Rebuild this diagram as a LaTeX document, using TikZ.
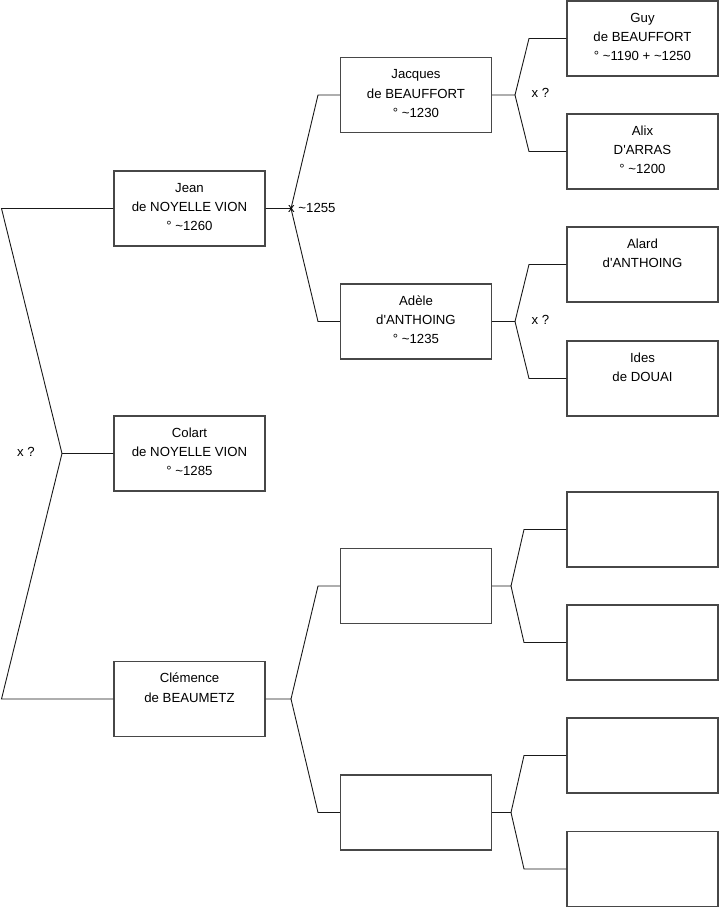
\documentclass[tikz,border=0pt]{standalone}
\usepackage{fontspec}
\setmainfont{Liberation Sans}
\newcommand{\tld}{\textasciitilde}
\newcommand{\ap}{\textquotesingle}
\tikzset{
  box/.style={draw=black!72, line width=1.1pt, inner sep=0pt, minimum width=151pt, minimum height=75pt,
    execute at begin node={\begin{minipage}[c][75pt][t]{151pt}\fontsize{13.2pt}{19.2pt}\selectfont\centering\vspace*{7.9pt}\strut},
    execute at end node={\end{minipage}}},
  conn/.style={draw=black!90, line width=0.9pt},
  lbl/.style={font=\fontsize{13.2pt}{16pt}\selectfont, inner sep=0pt}
}
\begin{document}
\begin{tikzpicture}[x=1pt,y=-1pt]
\useasboundingbox (0,0) rectangle (719,908);
% column 1
\node[box] (jean) at (189.5,208.5) {Jean\\de NOYELLE VION\\° \tld1260};
\node[box] (colart) at (189.5,453.5) {Colart\\de NOYELLE VION\\° \tld1285};
\node[box] (clem) at (189.5,699) {Clémence\\de BEAUMETZ};
% column 2
\node[box] (jacques) at (416,95) {Jacques\\de BEAUFFORT\\° \tld1230};
\node[box] (adele) at (416,321.5) {Adèle\\d\ap ANTHOING\\° \tld1235};
\node[box] (ea) at (416,586) {};
\node[box] (eb) at (416,812.5) {};
% column 3
\node[box] (guy) at (642.5,38.5) {Guy\\de BEAUFFORT\\° \tld1190 + \tld1250};
\node[box] (alix) at (642.5,151.5) {Alix\\D\ap ARRAS\\° \tld1200};
\node[box] (alard) at (642.5,264.5) {Alard\\d\ap ANTHOING};
\node[box] (ides) at (642.5,378.5) {Ides\\de DOUAI};
\node[box] (ec) at (642.5,529.5) {};
\node[box] (ed) at (642.5,642.5) {};
\node[box] (ee) at (642.5,755.5) {};
\node[box] (ef) at (642.5,869) {};
% junction coordinates
\coordinate (r1) at (1.5,208.5);
\coordinate (r0) at (62,453.5);
\coordinate (r2) at (1.5,699);
\coordinate (j0) at (291,208.5);
\coordinate (j1) at (318,95);
\coordinate (j2) at (318,321.5);
\coordinate (c0) at (291,699);
\coordinate (c1) at (318,586);
\coordinate (c2) at (318,812.5);
\coordinate (q0) at (515,95);
\coordinate (q1) at (529,38.5);
\coordinate (q2) at (529,151.5);
\coordinate (a0) at (515,321.5);
\coordinate (a1) at (529,264.5);
\coordinate (a2) at (529,378.5);
\coordinate (e0) at (511,586);
\coordinate (e1) at (524,529.5);
\coordinate (e2) at (524,642.5);
\coordinate (f0) at (511,812.5);
\coordinate (f1) at (524,755.5);
\coordinate (f2) at (524,869);
% connectors
\draw[conn] (jean.west) -- (r1) -- (r0) -- (colart.west);
\draw[conn] (r0) -- (r2) -- (clem.west);
\draw[conn] (jean.east) -- (j0) -- (j1) -- (jacques.west);
\draw[conn] (j0) -- (j2) -- (adele.west);
\draw[conn] (clem.east) -- (c0) -- (c1) -- (ea.west);
\draw[conn] (c0) -- (c2) -- (eb.west);
\draw[conn] (jacques.east) -- (q0) -- (q1) -- (guy.west);
\draw[conn] (q0) -- (q2) -- (alix.west);
\draw[conn] (adele.east) -- (a0) -- (a1) -- (alard.west);
\draw[conn] (a0) -- (a2) -- (ides.west);
\draw[conn] (ea.east) -- (e0) -- (e1) -- (ec.west);
\draw[conn] (e0) -- (e2) -- (ed.west);
\draw[conn] (eb.east) -- (f0) -- (f1) -- (ee.west);
\draw[conn] (f0) -- (f2) -- (ef.west);
% labels
\node[lbl] (lroot) at (26,452) {x ?};
\node[lbl, anchor=west] (ljean) at (288,207.5) {x \tld1255};
\node[lbl] (ljac) at (540.5,93) {x ?};
\node[lbl] (lade) at (540.5,320) {x ?};
\end{tikzpicture}
\end{document}
